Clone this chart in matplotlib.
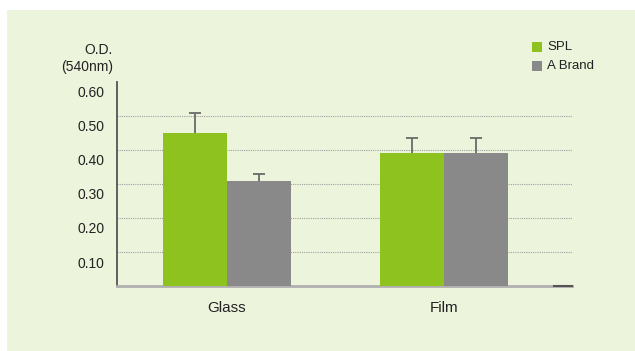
import matplotlib
matplotlib.use("Agg")
import matplotlib.pyplot as plt
import numpy as np
from matplotlib.patches import Rectangle
from matplotlib.transforms import ScaledTranslation

categories = ["Glass", "Film"]
series_names = ["SPL", "A Brand"]
spl_values = [0.45, 0.39]
spl_errors = [0.06, 0.045]
abrand_values = [0.31, 0.39]
abrand_errors = [0.02, 0.045]
ytick_values = [0.10, 0.20, 0.30, 0.40, 0.50, 0.60]
ytick_labels = ["0.10", "0.20", "0.30", "0.40", "0.50", "0.60"]

plt.rcParams['font.family'] = ['Liberation Sans', 'DejaVu Sans']

W, H = 635, 351
fig = plt.figure(figsize=(W / 100, H / 100), dpi=100)
fig.patch.set_facecolor("white")

panel_color = "#ecf4dc"
fig.patches.append(Rectangle((7 / W, 0), 1 - 7 / W, (H - 10) / H, transform=fig.transFigure,
                             facecolor=panel_color, edgecolor="none", zorder=-10))

ax = fig.add_axes([117 / W, (H - 286) / H, 455 / W, (286 - 82) / H])
ax.set_facecolor("none")
ax.set_zorder(1)

green = "#8dc21f"
gray = "#898989"
x = np.arange(len(categories))
bw = 0.295
ax.bar(x - bw / 2, spl_values, bw, color=green, zorder=3)
ax.bar(x + bw / 2, abrand_values, bw, color=gray, zorder=3)
for xs, vals, errs in [(x - bw / 2, spl_values, spl_errors), (x + bw / 2, abrand_values, abrand_errors)]:
    cont = ax.errorbar(xs, vals, yerr=[np.zeros(len(x)), errs], fmt="none",
                       ecolor="#6a6a6a", elinewidth=1.3, capsize=4, capthick=1.3, zorder=4)
    caps = cont[1]
    if len(caps) == 2:
        caps[0].set_visible(False)

ax.set_xlim(-0.507, 1.59)
ax.set_ylim(0, 0.6)

# dotted gridlines (0.1 - 0.5)
for v in ytick_values[:-1]:
    ax.axhline(v, color="#a0a0a0", lw=0.8, ls=(0, (1, 1)), zorder=1)

ax.set_yticks(ytick_values)
ax.set_yticklabels(ytick_labels, fontsize=10, color="#222222")
ax.tick_params(axis="y", length=0, pad=9)
offset = ScaledTranslation(0, -10 / 100, fig.dpi_scale_trans)
for lab in ax.get_yticklabels():
    lab.set_transform(lab.get_transform() + offset)

ax.set_xticks(x)
ax.set_xticklabels(categories, fontsize=11, color="#222222")
ax.tick_params(axis="x", length=0, pad=11)

for s in ["top", "right"]:
    ax.spines[s].set_visible(False)
ax.spines["left"].set_color("#555555")
ax.spines["left"].set_linewidth(1.3)
ax.spines["bottom"].set_color("#b0b0b0")
ax.spines["bottom"].set_linewidth(2)
ax.plot([(554 - 117) / 455, 1.0], [0, 0], transform=ax.transAxes, color="#555555",
        lw=1.5, clip_on=False, zorder=5)

# y axis title
fig.text(113 / W, 1 - 50 / H, "O.D.", ha="right", va="center", fontsize=10, color="#222222")
fig.text(113 / W, 1 - 67 / H, "(540nm)", ha="right", va="center", fontsize=10, color="#222222")

# legend
for i, (name, col) in enumerate(zip(series_names, [green, gray])):
    yc = 47 + i * 19
    fig.patches.append(Rectangle((532 / W, 1 - (yc + 5) / H), 10 / W, 10 / H,
                                 transform=fig.transFigure, facecolor=col, edgecolor="none"))
    fig.text(547 / W, 1 - yc / H, name, ha="left", va="center", fontsize=9.5, color="#222222")

fig.savefig("out.png", dpi=100, facecolor=fig.get_facecolor())
